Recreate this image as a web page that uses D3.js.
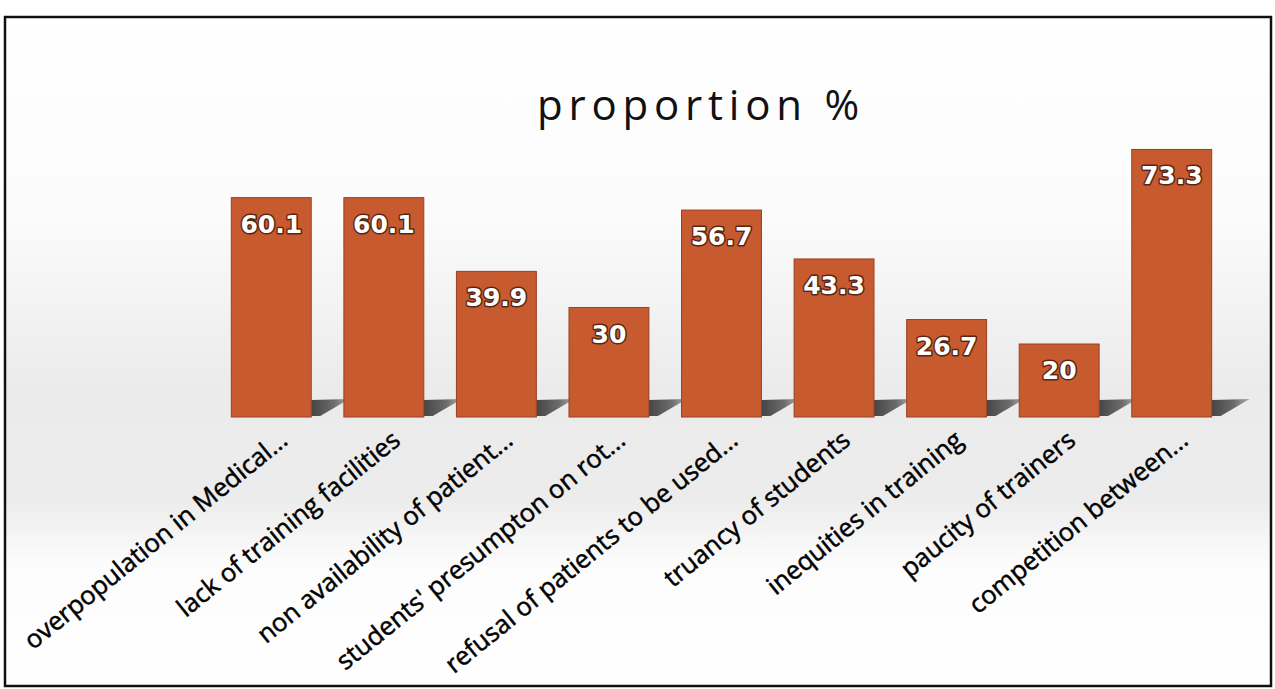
<!DOCTYPE html>
<html>
<head>
<meta charset="utf-8">
<script src="https://cdn.jsdelivr.net/npm/d3@7"></script>
<style>
  html, body { margin: 0; padding: 0; background: #ffffff; }
  svg { display: block; }
</style>
</head>
<body>
<svg id="chart" width="1275" height="689"></svg>
<script>
const categories = [
  "overpopulation in Medical...",
  "lack of training facilities",
  "non availability of patient...",
  "students' presumpton on rot...",
  "refusal of patients to be used...",
  "truancy of students",
  "inequities in training",
  "paucity of trainers",
  "competition between..."
];
const values = [60.1, 60.1, 39.9, 30, 56.7, 43.3, 26.7, 20, 73.3];
const valueLabels = ["60.1", "60.1", "39.9", "30", "56.7", "43.3", "26.7", "20", "73.3"];
const chartTitle = "proportion %";

const W = 1275, H = 689;
const svg = d3.select("#chart");
const defs = svg.append("defs");

// faint scan-like background band
const bg = defs.append("linearGradient").attr("id", "bgGrad")
  .attr("x1", 0).attr("y1", 0).attr("x2", 0).attr("y2", 1);
bg.append("stop").attr("offset", "0%").attr("stop-color", "#ffffff");
bg.append("stop").attr("offset", "30%").attr("stop-color", "#fbfbfb");
bg.append("stop").attr("offset", "55%").attr("stop-color", "#ebebeb");
bg.append("stop").attr("offset", "72%").attr("stop-color", "#ececec");
bg.append("stop").attr("offset", "82%").attr("stop-color", "#fcfcfc");
bg.append("stop").attr("offset", "100%").attr("stop-color", "#ffffff");

const sh = defs.append("linearGradient").attr("id", "shadowGrad")
  .attr("x1", 0).attr("y1", 0).attr("x2", 1).attr("y2", 0);
sh.append("stop").attr("offset", "0%").attr("stop-color", "#333333");
sh.append("stop").attr("offset", "60%").attr("stop-color", "#5e5e5e");
sh.append("stop").attr("offset", "100%").attr("stop-color", "#a8a8a8");

svg.append("rect").attr("x", 0).attr("y", 0).attr("width", W).attr("height", H).attr("fill", "#ffffff");
svg.append("rect").attr("x", 5).attr("y", 17).attr("width", 1266).attr("height", 669)
  .attr("fill", "url(#bgGrad)");

const x = d3.scaleBand().domain(categories).range([215, 1228]).paddingInner(0.29).paddingOuter(0.145);
const y = d3.scaleLinear().domain([0, 80]).range([417, 125]);
const base = y(0);

// shadows
const shH = 17, shL = 38;
svg.append("g").selectAll("path").data(categories).join("path")
  .attr("d", (d) => {
    const r = x(d) + x.bandwidth();
    return `M${r},${base - 1} L${r},${base - shH} L${r + shL},${base - shH - 1} L${r + 9},${base - 1} Z`;
  })
  .attr("fill", "url(#shadowGrad)")
  .attr("opacity", 0.9);

// bars
svg.append("g").selectAll("rect").data(values).join("rect")
  .attr("x", (d, i) => x(categories[i]))
  .attr("y", d => y(d))
  .attr("width", x.bandwidth())
  .attr("height", d => base - y(d))
  .attr("fill", "#c85a30")
  .attr("stroke", "#9a4020")
  .attr("stroke-width", 1);

// value labels
svg.append("g").selectAll("text").data(values).join("text")
  .attr("x", (d, i) => x(categories[i]) + x.bandwidth() / 2)
  .attr("y", d => y(d) + 35)
  .attr("text-anchor", "middle")
  .attr("font-family", "'DejaVu Sans', Verdana, sans-serif")
  .attr("font-weight", "bold")
  .attr("font-size", 25)
  .attr("fill", "#ffffff")
  .attr("stroke", "#5a2612")
  .attr("stroke-width", 3)
  .attr("paint-order", "stroke")
  .attr("stroke-linejoin", "round")
  .text((d, i) => valueLabels[i]);

// category labels
svg.append("g").selectAll("text").data(categories).join("text")
  .attr("transform", d => `translate(${x(d) + x.bandwidth() / 2 + 18},${base + 26}) rotate(-39)`)
  .attr("text-anchor", "end")
  .attr("font-family", "'Open Sans', sans-serif")
  .attr("font-size", 25.5)
  .attr("fill", "#000000")
  .attr("stroke", "#000000")
  .attr("stroke-width", 0.5)
  .text(d => d);

// title
svg.append("text")
  .attr("x", 537).attr("y", 120)
  .attr("font-family", "'Open Sans', sans-serif")
  .attr("font-size", 42)
  .attr("letter-spacing", 5.8)
  .attr("fill", "#111111")
  .text(chartTitle);

// border
svg.append("rect").attr("x", 5).attr("y", 17).attr("width", 1266).attr("height", 669)
  .attr("fill", "none").attr("stroke", "#111111").attr("stroke-width", 2.5);
</script>
</body>
</html>
